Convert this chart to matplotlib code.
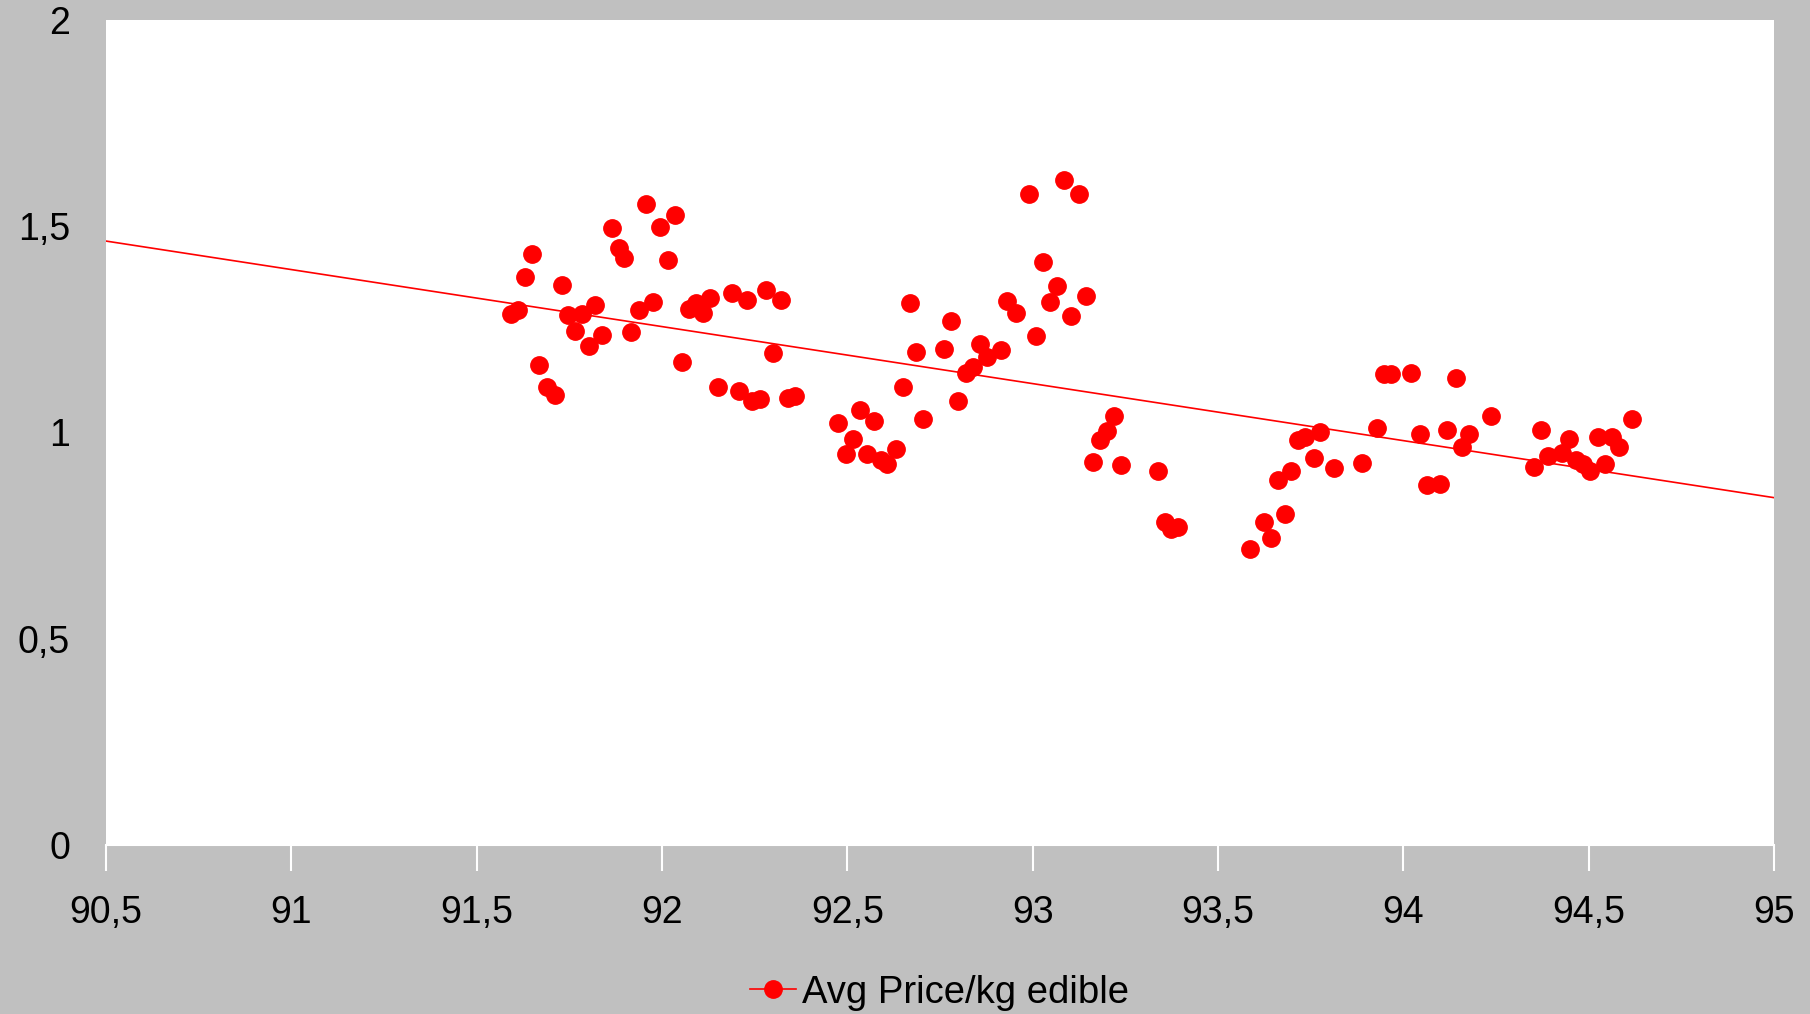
import numpy as np
import matplotlib
matplotlib.use("Agg")
import matplotlib.pyplot as plt
from matplotlib.lines import Line2D
from matplotlib.ticker import FuncFormatter, MultipleLocator

plt.rcParams['font.family'] = ['Liberation Sans', 'DejaVu Sans']

# values
x = [91.593, 91.612, 91.630, 91.649, 91.668, 91.690, 91.711, 91.730, 91.746, 91.764,
     91.783, 91.802, 91.820, 91.839, 91.864, 91.883, 91.898, 91.917, 91.939, 91.957,
     91.976, 91.995, 92.017, 92.035, 92.054, 92.073, 92.091, 92.110, 92.129, 92.151,
     92.188, 92.207, 92.228, 92.244, 92.263, 92.281, 92.300, 92.322, 92.341, 92.359,
     92.474, 92.496, 92.515, 92.534, 92.552, 92.571, 92.590, 92.608, 92.630, 92.649,
     92.668, 92.686, 92.705, 92.761, 92.780, 92.798, 92.820, 92.839, 92.858, 92.876,
     92.914, 92.932, 92.954, 92.991, 93.010, 93.029, 93.047, 93.066, 93.085, 93.104,
     93.125, 93.144, 93.163, 93.181, 93.200, 93.219, 93.237, 93.337, 93.356, 93.374,
     93.393, 93.586, 93.624, 93.642, 93.661, 93.680, 93.698, 93.717, 93.736, 93.758,
     93.776, 93.814, 93.888, 93.929, 93.947, 93.966, 94.022, 94.044, 94.063, 94.100,
     94.119, 94.141, 94.159, 94.178, 94.237, 94.352, 94.371, 94.390, 94.427, 94.446,
     94.465, 94.484, 94.503, 94.525, 94.543, 94.562, 94.581, 94.618]
price = [1.287, 1.296, 1.377, 1.433, 1.164, 1.111, 1.091, 1.358, 1.285, 1.245,
         1.287, 1.209, 1.310, 1.237, 1.495, 1.447, 1.422, 1.243, 1.296, 1.554,
         1.316, 1.498, 1.419, 1.526, 1.170, 1.299, 1.313, 1.290, 1.327, 1.111,
         1.338, 1.100, 1.321, 1.077, 1.080, 1.346, 1.192, 1.321, 1.083, 1.088,
         1.024, 0.948, 0.985, 1.055, 0.948, 1.027, 0.934, 0.923, 0.959, 1.111,
         1.313, 1.195, 1.032, 1.203, 1.271, 1.077, 1.144, 1.158, 1.215, 1.184,
         1.201, 1.318, 1.290, 1.579, 1.234, 1.414, 1.316, 1.355, 1.613, 1.282,
         1.579, 1.330, 0.928, 0.982, 1.004, 1.041, 0.920, 0.906, 0.783, 0.766,
         0.771, 0.718, 0.783, 0.743, 0.884, 0.802, 0.906, 0.982, 0.990, 0.937,
         1.001, 0.914, 0.926, 1.010, 1.142, 1.142, 1.144, 0.996, 0.872, 0.875,
         1.007, 1.133, 0.965, 0.996, 1.041, 0.917, 1.007, 0.942, 0.951, 0.985,
         0.934, 0.923, 0.906, 0.990, 0.923, 0.990, 0.965, 1.032]

# trendline end values as shown in the chart
trend_x = [90.5, 95.0]
trend_y = [1.464, 0.842]

grey = '#c0c0c0'
fig = plt.figure(figsize=(18.1, 10.14), dpi=100, facecolor=grey)
ax = fig.add_axes([0.0586, 0.1667, 0.9215, 0.8136])
ax.set_facecolor('white')

ax.plot(trend_x, trend_y, color='red', lw=1.2, zorder=2)
ax.plot(x, price, 'o', color='red', ms=12.5, mec='red', zorder=3)

ax.set_xlim(90.5, 95)
ax.set_ylim(0, 2)
ax.xaxis.set_major_locator(MultipleLocator(0.5))
ax.yaxis.set_major_locator(MultipleLocator(0.5))
fmt = FuncFormatter(lambda v, p: ('%g' % v).replace('.', ','))
ax.xaxis.set_major_formatter(fmt)
ax.yaxis.set_major_formatter(fmt)

for s in ['top', 'right', 'left']:
    ax.spines[s].set_visible(False)
ax.spines['bottom'].set_color('white')
ax.spines['bottom'].set_linewidth(1.5)
ax.tick_params(axis='x', direction='out', length=19, width=1.5, color='white',
               labelsize=27, pad=17)
ax.tick_params(axis='y', length=0, labelsize=27, pad=26)

h = Line2D([], [], color='red', lw=1.2, marker='o', ms=12.5)
fig.legend([h], ['Avg Price/kg edible'], loc='center', bbox_to_anchor=(0.519, 0.021),
           frameon=False, fontsize=27.5, handlelength=1.2, handletextpad=0.15)

fig.savefig('out.png', dpi=100, facecolor=grey)
